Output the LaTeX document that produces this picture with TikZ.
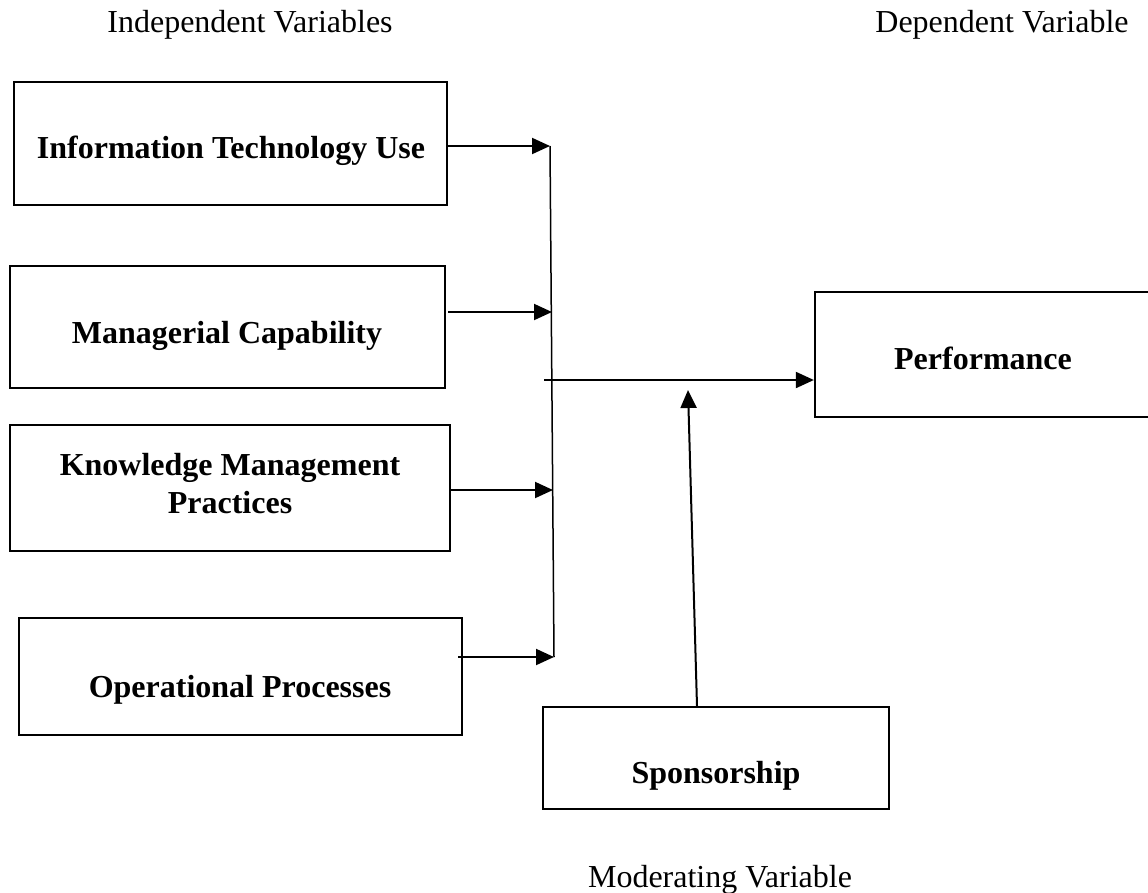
\documentclass[tikz,border=0pt]{standalone}
\usepackage{fontspec}
\setmainfont{Liberation Serif}
\usetikzlibrary{arrows.meta,calc}
\begin{document}
\begin{tikzpicture}[x=1pt,y=-1pt,
  box/.style={draw, line width=2.3pt, rectangle, inner sep=0pt},
  heading/.style={font=\fontsize{32}{38}\selectfont, anchor=base, inner sep=0pt},
  vartext/.style={font=\fontsize{32}{38}\selectfont\bfseries, align=center, anchor=base, inner sep=0pt},
  link/.style={line width=2pt, -{Triangle[length=18pt,width=16pt]}},
  rail/.style={line width=1.5pt}]
\useasboundingbox (0,0) rectangle (1148,892);

% group headings
\node[heading] (hind) at (250,32) {Independent Variables};
\node[heading] (hdep) at (1002,32) {Dependent Variable};
\node[heading] (hmod) at (720,887) {Moderating Variable};

% independent variable boxes
\node[box, minimum width=433pt, minimum height=123pt] (it) at (230.5,143.5) {};
\node[vartext] (itT) at (231,158) {Information Technology Use};
\node[box, minimum width=435pt, minimum height=122pt] (mc) at (227.5,327) {};
\node[vartext] (mcT) at (227,343) {Managerial Capability};
\node[box, minimum width=440pt, minimum height=126pt] (km) at (230,488) {};
\node[vartext] (kmT) at (230,513) {Knowledge Management\\Practices};
\node[box, minimum width=443pt, minimum height=117pt] (op) at (240.5,676.5) {};
\node[vartext] (opT) at (240,697) {Operational Processes};

% dependent and moderating variable boxes
\node[box, minimum width=337pt, minimum height=125pt] (pf) at (983.5,354.5) {};
\node[vartext] (pfT) at (983,369) {Performance};
\node[box, minimum width=346pt, minimum height=102pt] (sp) at (716,758) {};
\node[vartext] (spT) at (716,783) {Sponsorship};

% collecting rail
\coordinate (railTop) at (550,146);
\coordinate (railBot) at (554,657);
\draw[rail] (railTop) -- (railBot);

% arrows into the rail
\draw[link] (it.east |- 0,146) -- (railTop);
\draw[link] (448,312) -- (552,312);
\draw[link] (451,490) -- (553,490);
\draw[link] (458,657) -- (railBot);

% rail to performance
\coordinate (railOut) at (544,380);
\draw[link] (railOut) -- (pf.west |- railOut);

% moderating effect
\coordinate (modTip) at (688,390);
\draw[link] (697,706) -- (modTip);
\end{tikzpicture}
\end{document}
